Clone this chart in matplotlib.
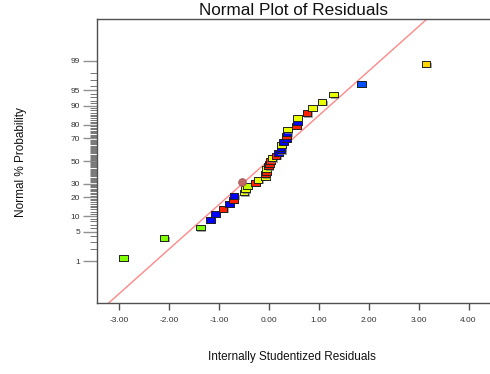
import matplotlib
matplotlib.use("Agg")
import matplotlib.pyplot as plt
import matplotlib.patheffects as pe
from statistics import NormalDist

plt.rcParams['font.family'] = ['Liberation Sans', 'DejaVu Sans']

# Sorted internally studentized residuals (ascending) and their point colours
residuals = [-2.915, -2.106, -1.380, -1.176, -1.079, -0.923, -0.794, -0.708, -0.700,
             -0.502, -0.473, -0.433, -0.273, -0.221, -0.066, -0.066, -0.056, -0.046,
             -0.012, 0.014, 0.028, 0.060, 0.140, 0.195, 0.241, 0.241, 0.249, 0.295,
             0.350, 0.350, 0.361, 0.369, 0.556, 0.570, 0.576, 0.762, 0.871, 1.063,
             1.298, 1.854, 3.143]
G, Y, GY, R, B, B2, GO = '#80ff00', '#e8ff00', '#c0ff00', '#ff2000', '#0000ff', '#0050ff', '#ffd700'
point_colors = [G, G, G, B, B, R, B, R, B,
                Y, Y, GY, R, Y, Y, R, R, Y,
                R, R, R, Y, R, B, B, B, Y, B,
                B, R, B, Y, R, B, Y, R, Y, Y,
                Y, B2, GO]

# Highlighted run drawn as a round marker
highlight_residual = -0.542
highlight_percent = 31.2

# Reference line in probit units: z = slope * residual + intercept
line_slope = 1.034
line_intercept = 0.025

# Probability axis labels (percent)
prob_labels = [1, 5, 10, 20, 30, 50, 70, 80, 90, 95, 99]
x_ticks = [-3, -2, -1, 0, 1, 2, 3, 4]

nd = NormalDist()
n = len(residuals)
z_vals = [nd.inv_cdf((i + 0.5) / n) for i in range(n)]

W, H = 490, 374
fig = plt.figure(figsize=(W / 100, H / 100), dpi=100)
ax = fig.add_axes([97 / W, 1 - 303 / H, 1 - 97 / W, (303 - 19) / H])

xlim = (-3.45, 4.43)
ylim = (-3.30, 3.30)
ax.set_xlim(*xlim)
ax.set_ylim(*ylim)

# reference line
xs = [xlim[0], xlim[1]]
ax.plot(xs, [line_slope * x + line_intercept for x in xs], color='#ff8888', lw=1.0, zorder=2)

rect = [(-1, -0.68), (1, -0.68), (1, 0.68), (-1, 0.68), (-1, -0.68)]
for x, z, c in zip(residuals, z_vals, point_colors):
    ax.plot([x], [z], linestyle='none', marker=rect, markersize=6.2,
            markerfacecolor=c, markeredgecolor='#202020', markeredgewidth=0.7,
            zorder=3, path_effects=[pe.SimplePatchShadow(offset=(1, -1), shadow_rgbFace='#808080', alpha=0.7), pe.Normal()])

ax.plot([highlight_residual], [nd.inv_cdf(highlight_percent / 100)], linestyle='none',
        marker='o', markersize=5.5, markerfacecolor='#c06868', markeredgecolor='#a05050',
        markeredgewidth=0.6, zorder=3)

# axes styling
ax.spines['right'].set_visible(False)
for side in ('left', 'bottom', 'top'):
    ax.spines[side].set_color('#505050')
    ax.spines[side].set_linewidth(1.0)

ax.set_xticks(x_ticks)
ax.set_xticklabels([f'{t:.2f}' for t in x_ticks])
ax.tick_params(axis='x', direction='out', length=5, width=1, color='#505050',
               labelsize=6, labelcolor='#333333', pad=5)

ax.set_yticks([nd.inv_cdf(p / 100) for p in prob_labels])
ax.set_yticklabels([str(p) for p in prob_labels])
ax.set_yticks([nd.inv_cdf(p / 100) for p in range(1, 100)], minor=True)
ax.tick_params(axis='y', which='major', direction='out', length=10, width=1,
               color='#909090', labelsize=6, labelcolor='#333333', pad=2)
ax.tick_params(axis='y', which='minor', direction='out', length=5, width=0.6,
               color='#606060')

ax.set_title('Normal Plot of Residuals', fontsize=12.3, color='#111111', pad=3)
fig.text(292 / W, 1 - 357 / H, 'Internally Studentized Residuals', fontsize=8.5,
         ha='center', va='center', color='#111111')
fig.text(21 / W, 1 - 162 / H, 'Normal % Probability', fontsize=8.5, rotation=90,
         ha='center', va='center', color='#111111')

fig.savefig('out.png', dpi=100)
